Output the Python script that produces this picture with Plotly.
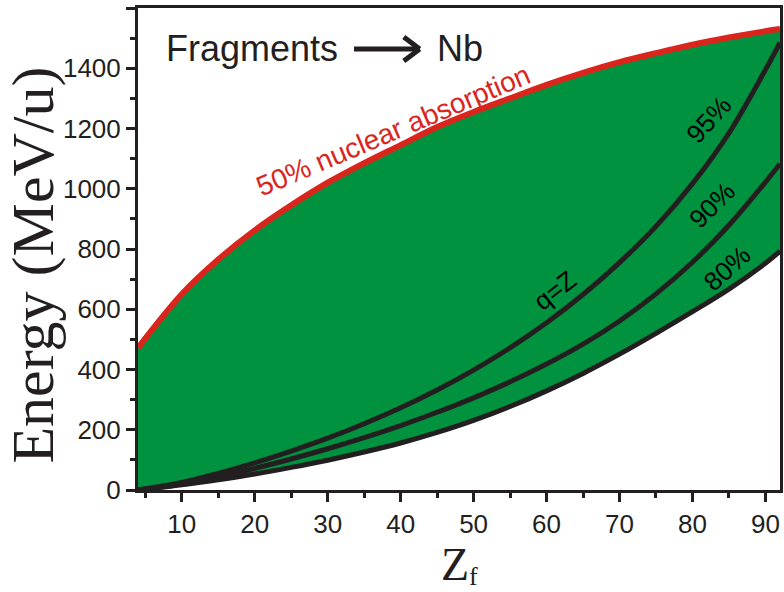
import plotly.graph_objects as go

# ---- data ----
z_f = [4, 10, 15, 20, 25, 30, 35, 40, 45, 50, 55, 60, 65, 70, 75, 80, 85, 90, 92]
absorption_50 = [472, 650, 765, 862, 945, 1020, 1085, 1145, 1205, 1255, 1300, 1345, 1385, 1420, 1450, 1478, 1502, 1523, 1530]
q_eq_z_95 = [0, 25, 55, 90, 129, 172, 220, 273, 332, 398, 472, 555, 649, 755, 875, 1017, 1185, 1395, 1485]
q_eq_z_90 = [0, 20, 44, 72, 103, 137, 174, 214, 258, 306, 359, 418, 484, 561, 651, 756, 879, 1022, 1083]
q_eq_z_80 = [0, 17, 34, 53, 75, 99, 126, 156, 191, 231, 277, 329, 387, 451, 520, 592, 667, 753, 793]

x_ticks = [10, 20, 30, 40, 50, 60, 70, 80, 90]
y_ticks = [0, 200, 400, 600, 800, 1000, 1200, 1400, 1600]
y_ticktext = ["0", "200", "400", "600", "800", "1000", "1200", "1400", ""]

GREEN = "#00923F"
RED = "#DA251D"
BLACK = "#231F20"

fig = go.Figure()

# fill region between the 80% curve and the absorption curve
fig.add_trace(go.Scatter(x=z_f, y=q_eq_z_80, mode="lines", line=dict(width=0, shape="spline"),
                         showlegend=False, hoverinfo="skip"))
fig.add_trace(go.Scatter(x=z_f, y=absorption_50, mode="lines", line=dict(width=0, shape="spline"),
                         fill="tonexty", fillcolor=GREEN, showlegend=False, hoverinfo="skip"))

for series in (q_eq_z_80, q_eq_z_90, q_eq_z_95):
    fig.add_trace(go.Scatter(x=z_f, y=series, mode="lines",
                             line=dict(color=BLACK, width=5, shape="spline"), showlegend=False))

fig.add_trace(go.Scatter(x=z_f, y=absorption_50, mode="lines",
                         line=dict(color=RED, width=6, shape="spline"), showlegend=False))

ann_font = dict(family="Liberation Sans, Arial", size=26, color="black")
annotations = [
    dict(x=82.2, y=1228, text="95%", textangle=-48, font=ann_font),
    dict(x=82.7, y=946, text="90%", textangle=-45, font=ann_font),
    dict(x=84.8, y=737, text="80%", textangle=-42, font=ann_font),
    dict(x=61.2, y=664, text="q=Z", textangle=-38, font=ann_font),
    dict(x=39.0, y=1195, text="50% nuclear absorption", textangle=-23,
         font=dict(family="Liberation Sans, Arial", size=28, color=RED)),
    dict(x=19.6, y=1467, text="Fragments", font=dict(family="Liberation Sans, Arial", size=36, color=BLACK)),
    dict(x=44.7, y=1467, text="Nb", xanchor="left", font=dict(family="Liberation Sans, Arial", size=36, color=BLACK)),
    # axis titles
    dict(xref="paper", yref="paper", x=-0.164, y=0.467, text="Energy (MeV/u)", textangle=-90,
         font=dict(family="Liberation Serif, Times New Roman", size=60, color=BLACK)),
    dict(xref="paper", yref="paper", x=0.493, y=-0.155, text="Z",
         font=dict(family="Liberation Serif, Times New Roman", size=46, color=BLACK)),
    dict(xref="paper", yref="paper", x=0.523, y=-0.180, text="f",
         font=dict(family="Liberation Serif, Times New Roman", size=26, color=BLACK)),
]
for a in annotations:
    a.setdefault("xref", "x")
    a.setdefault("yref", "y")
    a.setdefault("xanchor", "center")
    a.setdefault("yanchor", "middle")
    a["showarrow"] = False
    fig.add_annotation(**a)

# arrow "->" between Fragments and Nb (paper coords)
def px2paper(px, py):
    return (px - 138) / 645, (490 - py) / 482

x0, y0 = px2paper(355, 49)
x1, y1 = px2paper(421, 49)
xa, ya = px2paper(405, 37)
xb, yb = px2paper(405, 61)
for (sx, sy, ex, ey) in [(x0, y0, x1, y1), (xa, ya, x1, y1), (xb, yb, x1, y1)]:
    fig.add_shape(type="line", xref="paper", yref="paper", x0=sx, y0=sy, x1=ex, y1=ey,
                  line=dict(color=BLACK, width=5))

axis_common = dict(showline=True, linewidth=3, linecolor=BLACK, mirror=True,
                   ticks="outside", ticklen=9, tickwidth=2.5, tickcolor=BLACK,
                   showgrid=False, zeroline=False,
                   tickfont=dict(family="Liberation Sans, Arial", size=26, color=BLACK))

fig.update_xaxes(range=[4, 92], tickvals=x_ticks,
                 minor=dict(dtick=5, tick0=0, ticks="outside", ticklen=5, tickwidth=2.5, tickcolor=BLACK),
                 **axis_common)
fig.update_yaxes(range=[0, 1600], tickvals=y_ticks, ticktext=y_ticktext,
                 minor=dict(dtick=100, tick0=0, ticks="outside", ticklen=5, tickwidth=2.5, tickcolor=BLACK),
                 **axis_common)

fig.update_layout(width=784, height=592, margin=dict(l=138, r=1, t=8, b=102),
                  plot_bgcolor="white", paper_bgcolor="white", showlegend=False)

fig.write_html("out.html", config={"displayModeBar": False},
               post_script="document.body.style.margin='0px';")
